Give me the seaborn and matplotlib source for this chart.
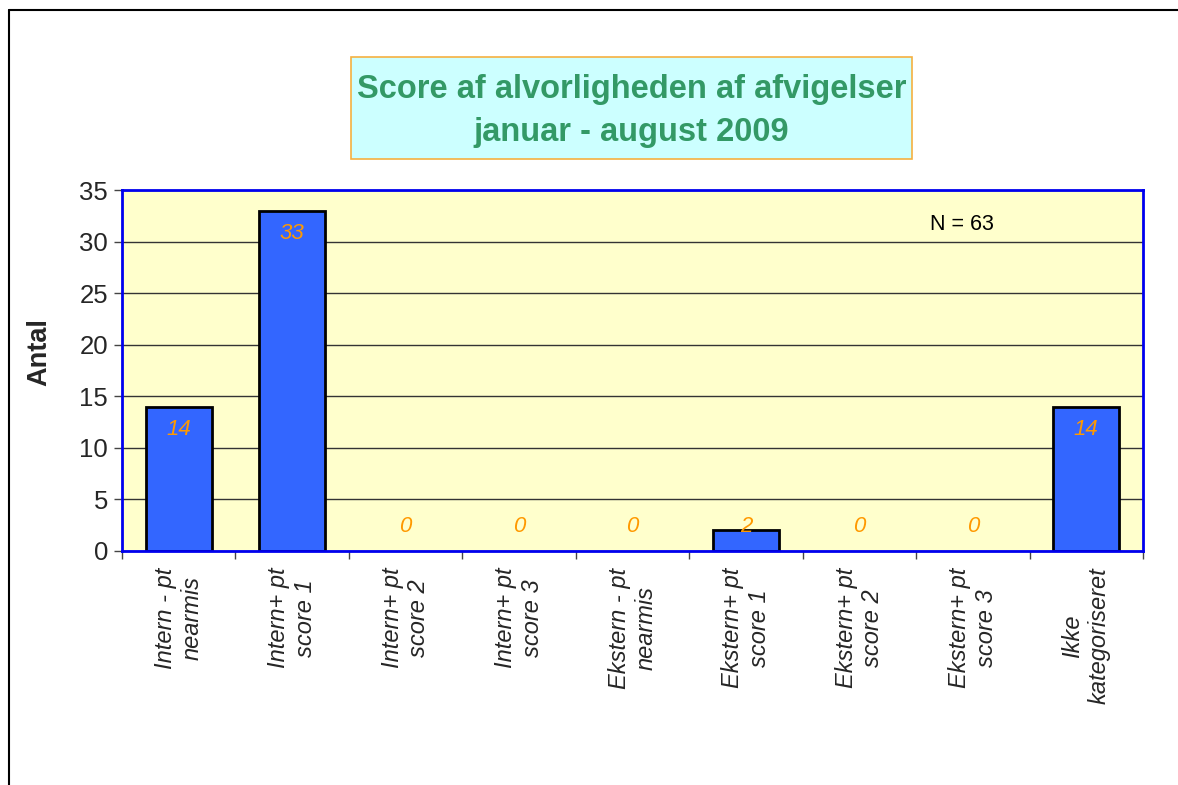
import matplotlib
matplotlib.use("Agg")
import matplotlib.pyplot as plt
from matplotlib.patches import Rectangle
from matplotlib.lines import Line2D
import seaborn as sns
import pandas as pd

# Data
categories = [
    "Intern - pt\nnearmis", "Intern+ pt\nscore 1", "Intern+ pt\nscore 2",
    "Intern+ pt\nscore 3", "Ekstern - pt\nnearmis", "Ekstern+ pt\nscore 1",
    "Ekstern+ pt\nscore 2", "Ekstern+ pt\nscore 3", "Ikke\nkategoriseret",
]
antal = [14, 33, 0, 0, 0, 2, 0, 0, 14]
y_ticks = [0, 5, 10, 15, 20, 25, 30, 35]
title_lines = ["Score af alvorligheden af afvigelser", "januar - august 2009"]
n_text = "N = 63"

df = pd.DataFrame({"kategori": categories, "antal": antal})

sns.set_theme(style="white")
plt.rcParams["font.family"] = ["Liberation Sans", "DejaVu Sans"]

fig = plt.figure(figsize=(11.78, 7.85), dpi=100)
ax = fig.add_axes([122 / 1178, 1 - 551 / 785, 1021 / 1178, 361 / 785])

sns.barplot(data=df, x="kategori", y="antal", color="#3366FF", width=0.58,
            edgecolor="black", linewidth=2, saturation=1, ax=ax, zorder=3)
# empty bars draw nothing
for p, v in zip(ax.patches, antal):
    if v == 0:
        p.set_linewidth(0)

ax.set_facecolor("#FFFFCC")
ax.set_ylim(0, 35)
ax.set_xlim(-0.5, len(categories) - 0.5)
ax.set_yticks(y_ticks)
ax.yaxis.grid(True, color="#333333", linewidth=1, zorder=0)
ax.set_axisbelow(True)
for s in ax.spines.values():
    s.set_color("#0000EE")
    s.set_linewidth(2)
    s.set_zorder(6)

ax.tick_params(axis="y", labelsize=18.5, length=6, width=1, color="#444444",
               direction="out", left=True, pad=4)
ax.set_xticks(range(len(categories)))
ax.set_xticklabels(categories, rotation=90, fontsize=17, style="italic",
                   ha="center", va="top", multialignment="center")
ax.tick_params(axis="x", length=0, pad=12)
# ticks at category boundaries
ax.set_xticks([i - 0.5 for i in range(len(categories) + 1)], minor=True)
ax.tick_params(axis="x", which="minor", length=6, width=1, color="#444444",
               direction="out", bottom=True)

ax.set_xlabel("")
ax.set_ylabel("Antal", fontsize=19.5, fontweight="bold")
ax.yaxis.set_label_coords(-0.068, 0.55)

# value labels
for i, v in enumerate(antal):
    ly = max(v - 2.23, 2.33)
    ax.text(i, ly, str(v), ha="center", va="center", fontsize=16,
            style="italic", color="#FF9900", zorder=5)

ax.text(0.791, 0.905, n_text, transform=ax.transAxes, fontsize=15.5,
        ha="left", va="center", color="black")

# title box
fig.patches.append(Rectangle((351 / 1178, 1 - 159 / 785), 561 / 1178, 102 / 785,
                             transform=fig.transFigure, facecolor="#CCFFFF",
                             edgecolor="#F5B041", linewidth=1.2))
fig.text(631.5 / 1178, 1 - 111 / 785, "\n".join(title_lines), ha="center",
         va="center", fontsize=23.5, fontweight="bold", color="#339966",
         linespacing=1.5)

# outer frame (top and left)
fig.lines.append(Line2D([8.5 / 1178, 8.5 / 1178], [0, 1 - 10 / 785],
                        transform=fig.transFigure, color="black", linewidth=1.5))
fig.lines.append(Line2D([8.5 / 1178, 1], [1 - 10 / 785, 1 - 10 / 785],
                        transform=fig.transFigure, color="black", linewidth=1.5))

fig.savefig("out.png", dpi=100, facecolor="white")
